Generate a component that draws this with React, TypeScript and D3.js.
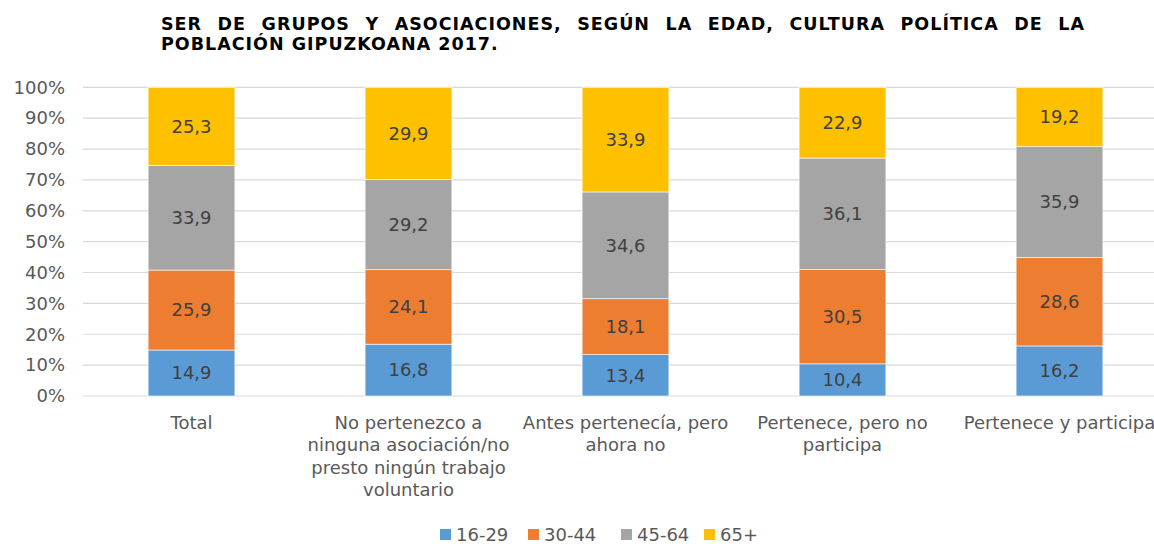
import React, { useEffect, useRef, useState } from "react";
import * as d3 from "d3";

const categories = [
  "Total",
  "No pertenezco a ninguna asociación/no presto ningún trabajo voluntario",
  "Antes pertenecía, pero ahora no",
  "Pertenece, pero no participa",
  "Pertenece y participa",
];
const categoryLines = [
  ["Total"],
  ["No pertenezco a", "ninguna asociación/no", "presto ningún trabajo", "voluntario"],
  ["Antes pertenecía, pero", "ahora no"],
  ["Pertenece, pero no", "participa"],
  ["Pertenece y participa"],
];
const seriesNames = ["16-29", "30-44", "45-64", "65+"];
const s1629 = [14.9, 16.8, 13.4, 10.4, 16.2];
const s3044 = [25.9, 24.1, 18.1, 30.5, 28.6];
const s4564 = [33.9, 29.2, 34.6, 36.1, 35.9];
const s65 = [25.3, 29.9, 33.9, 22.9, 19.2];
const seriesValues = [s1629, s3044, s4564, s65];
const colors = ["#5B9BD5", "#ED7D31", "#A5A5A5", "#FFC000"];
const yTicks = [0, 10, 20, 30, 40, 50, 60, 70, 80, 90, 100];
const titleLines = [
  "SER DE GRUPOS Y ASOCIACIONES, SEGÚN LA EDAD, CULTURA POLÍTICA DE LA",
  "POBLACIÓN GIPUZKOANA 2017.",
];

const W = 1154;
const H = 544;
const FONT = "Verdana, 'DejaVu Sans', sans-serif";

export default function App() {
  const titleRef = useRef<SVGTextElement | null>(null);
  const [wordSpacing, setWordSpacing] = useState(0);

  useEffect(() => {
    const el = titleRef.current;
    if (!el) return;
    const len = el.getComputedTextLength();
    const target = 1085 - 161;
    const nSpaces = titleLines[0].split(" ").length - 1;
    setWordSpacing(Math.max(0, (target - len) / nSpaces));
  }, []);

  const x = d3
    .scaleBand<string>()
    .domain(categories)
    .range([83, 1168])
    .paddingInner(0.6)
    .paddingOuter(0.3);
  const y = d3.scaleLinear().domain([0, 100]).range([396, 87.3]);

  const table = categories.map((c, i) => {
    const row: any = { cat: c };
    seriesNames.forEach((s, j) => (row[s] = seriesValues[j][i]));
    return row;
  });
  const totals = table.map((r) => seriesNames.reduce((a, s) => a + r[s], 0));
  const normTable = table.map((r, i) => {
    const o: any = { cat: r.cat };
    seriesNames.forEach((s) => (o[s] = (r[s] / totals[i]) * 100));
    return o;
  });
  const stacked = d3.stack<any>().keys(seriesNames)(normTable);

  const legendX = [440, 528, 621, 704];

  return (
    <svg
      width={W}
      height={H}
      style={{ position: "absolute", left: 0, top: 0, background: "#fff" }}
      fontFamily={FONT}
    >
      <text
        ref={titleRef}
        x={161}
        y={30}
        fontSize={17.5}
        fontWeight="bold"
        fill="#000"
        letterSpacing={1}
        style={{ wordSpacing: `${wordSpacing}px` }}
      >
        {titleLines[0]}
      </text>
      <text x={161} y={50} fontSize={17.5} fontWeight="bold" fill="#000" letterSpacing={1}>
        {titleLines[1]}
      </text>

      {yTicks.map((t) => (
        <g key={t}>
          <line x1={83} x2={W} y1={y(t)} y2={y(t)} stroke="#D9D9D9" strokeWidth={1.2} />
          <text
            x={65}
            y={y(t)}
            dy="0.35em"
            textAnchor="end"
            fontSize={18}
            fill="#595959"
          >
            {t}%
          </text>
        </g>
      ))}

      {stacked.map((layer, j) => (
        <g key={layer.key}>
          {layer.map((d, i) => {
            const x0 = x(categories[i])!;
            const bw = x.bandwidth();
            const yTop = y(d[1]);
            const yBot = y(d[0]);
            return (
              <g key={i}>
                <rect
                  x={x0}
                  y={yTop}
                  width={bw}
                  height={yBot - yTop}
                  fill={colors[j]}
                  stroke="#fff"
                  strokeWidth={0.6}
                />
                <text
                  x={x0 + bw / 2}
                  y={(yTop + yBot) / 2}
                  dy="0.35em"
                  textAnchor="middle"
                  fontSize={18}
                  fill="#404040"
                >
                  {seriesValues[j][i].toFixed(1).replace(".", ",")}
                </text>
              </g>
            );
          })}
        </g>
      ))}

      {categories.map((c, i) => (
        <text
          key={c}
          x={x(c)! + x.bandwidth() / 2}
          y={429}
          textAnchor="middle"
          fontSize={18}
          fill="#595959"
        >
          {categoryLines[i].map((ln, k) => (
            <tspan key={k} x={x(c)! + x.bandwidth() / 2} dy={k === 0 ? 0 : 22.3}>
              {ln}
            </tspan>
          ))}
        </text>
      ))}

      {seriesNames.map((s, j) => (
        <g key={s}>
          <rect x={legendX[j]} y={529} width={11} height={11} fill={colors[j]} />
          <text x={legendX[j] + 16} y={541} fontSize={18} fill="#595959">
            {s}
          </text>
        </g>
      ))}
    </svg>
  );
}
